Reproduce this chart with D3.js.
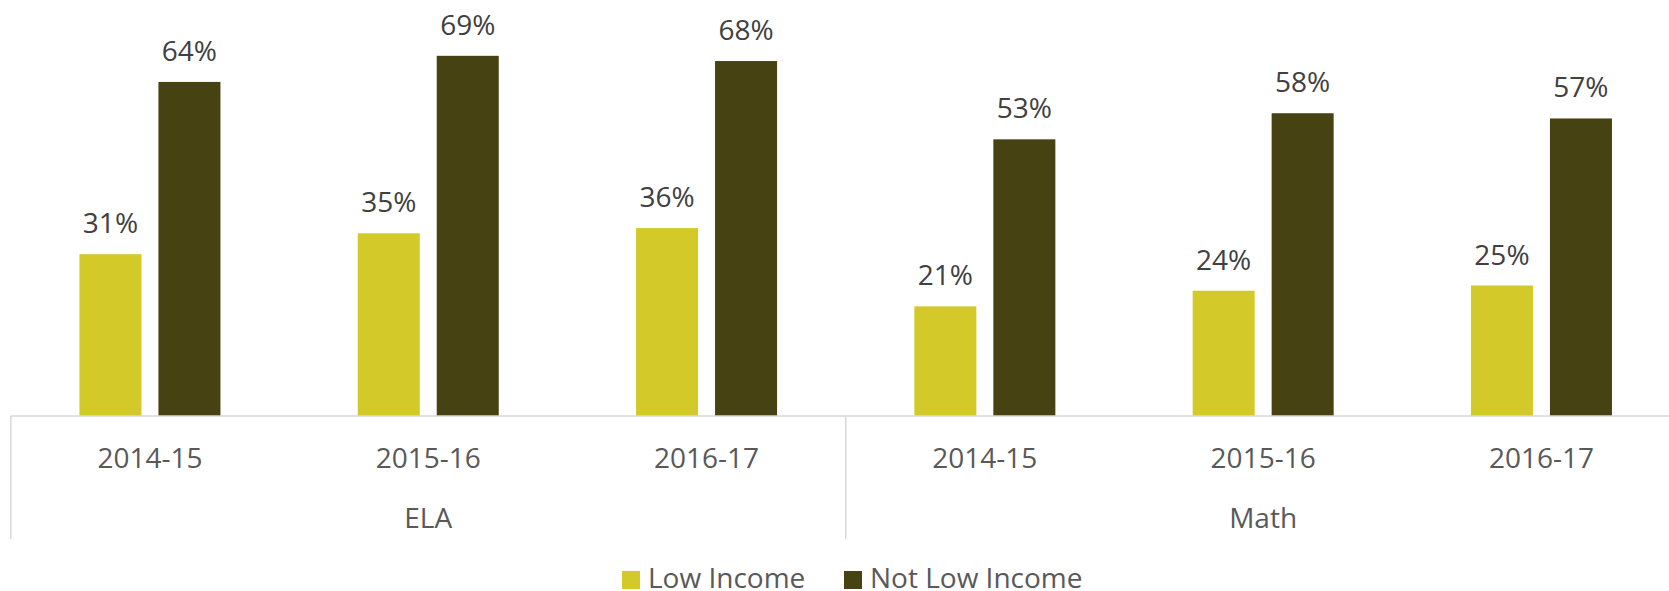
<!DOCTYPE html>
<html>
<head>
<meta charset="utf-8">
<script src="https://cdn.jsdelivr.net/npm/d3@7"></script>
<style>
  html, body { margin: 0; padding: 0; background: #fff; }
  svg { display: block; font-family: "Open Sans", "Noto Sans", sans-serif; }
</style>
</head>
<body>
<svg id="chart" width="1669" height="591"></svg>
<script>
// Proficiency rates by subject and school year
const subjects = ["ELA", "Math"];
const years = ["2014-15", "2015-16", "2016-17"];
const seriesNames = ["Low Income", "Not Low Income"];
const lowIncome = [31, 35, 36, 21, 24, 25];
const notLowIncome = [64, 69, 68, 53, 58, 57];
const seriesColors = ["#D3C929", "#464211"];

const svg = d3.select("#chart");

// One band per subject/year pair
const categories = [];
subjects.forEach(s => years.forEach(y => categories.push({ subject: s, year: y, key: s + "|" + y })));

const x0 = d3.scaleBand()
  .domain(categories.map(d => d.key))
  .range([10.8, 10.8 + 6 * 278.3])
  .paddingInner(0)
  .paddingOuter(0);

const x1 = d3.scaleBand()
  .domain(seriesNames)
  .range([0, x0.bandwidth()])
  .paddingInner(0.215)
  .paddingOuter(0.869);

const y = d3.scaleLinear().domain([0, 80]).range([416, -1.6]);

const values = [lowIncome, notLowIncome];

// Bars
const groups = svg.append("g").selectAll("g")
  .data(categories)
  .join("g")
  .attr("transform", d => `translate(${x0(d.key)},0)`);

groups.selectAll("rect")
  .data((d, i) => seriesNames.map((n, j) => ({ name: n, value: values[j][i], color: seriesColors[j] })))
  .join("rect")
  .attr("x", d => x1(d.name))
  .attr("width", x1.bandwidth())
  .attr("y", d => y(d.value))
  .attr("height", d => y(0) - y(d.value))
  .attr("fill", d => d.color);

// Value labels
groups.selectAll("text")
  .data((d, i) => seriesNames.map((n, j) => ({ name: n, value: values[j][i] })))
  .join("text")
  .attr("x", d => x1(d.name) + x1.bandwidth() / 2)
  .attr("y", d => y(d.value) - 21)
  .attr("text-anchor", "middle")
  .attr("font-size", 28)
  .attr("fill", "#404040")
  .text(d => d.value + "%");

// Category axis: baseline and subject dividers
const axis = svg.append("g").attr("stroke", "#D9D9D9").attr("stroke-width", 1.5).attr("fill", "none");
const xStart = x0.range()[0], xEnd = x0.range()[1];
axis.append("line").attr("x1", xStart).attr("x2", xEnd).attr("y1", y(0)).attr("y2", y(0));
[0, 3, 6].forEach(i => {
  const xx = i < 6 ? x0(categories[i].key) : xEnd;
  axis.append("line").attr("x1", xx).attr("x2", xx).attr("y1", y(0)).attr("y2", 539);
});

// Year labels
svg.append("g").selectAll("text")
  .data(categories)
  .join("text")
  .attr("x", d => x0(d.key) + x0.bandwidth() / 2)
  .attr("y", 468)
  .attr("text-anchor", "middle")
  .attr("font-size", 28)
  .attr("fill", "#595959")
  .text(d => d.year);

// Subject labels
svg.append("g").selectAll("text")
  .data(subjects)
  .join("text")
  .attr("x", (s, i) => x0(categories[i * 3].key) + 1.5 * x0.bandwidth())
  .attr("y", 528)
  .attr("text-anchor", "middle")
  .attr("font-size", 28)
  .attr("fill", "#595959")
  .text(s => s);

// Legend
const legendX = [622, 844];
const legend = svg.append("g").selectAll("g")
  .data(seriesNames)
  .join("g")
  .attr("transform", (d, i) => `translate(${legendX[i]},571)`);
legend.append("rect").attr("width", 18).attr("height", 18).attr("fill", (d, i) => seriesColors[i]);
legend.append("text")
  .attr("x", 26)
  .attr("y", 17)
  .attr("font-size", 28)
  .attr("fill", "#595959")
  .text(d => d);
</script>
</body>
</html>
